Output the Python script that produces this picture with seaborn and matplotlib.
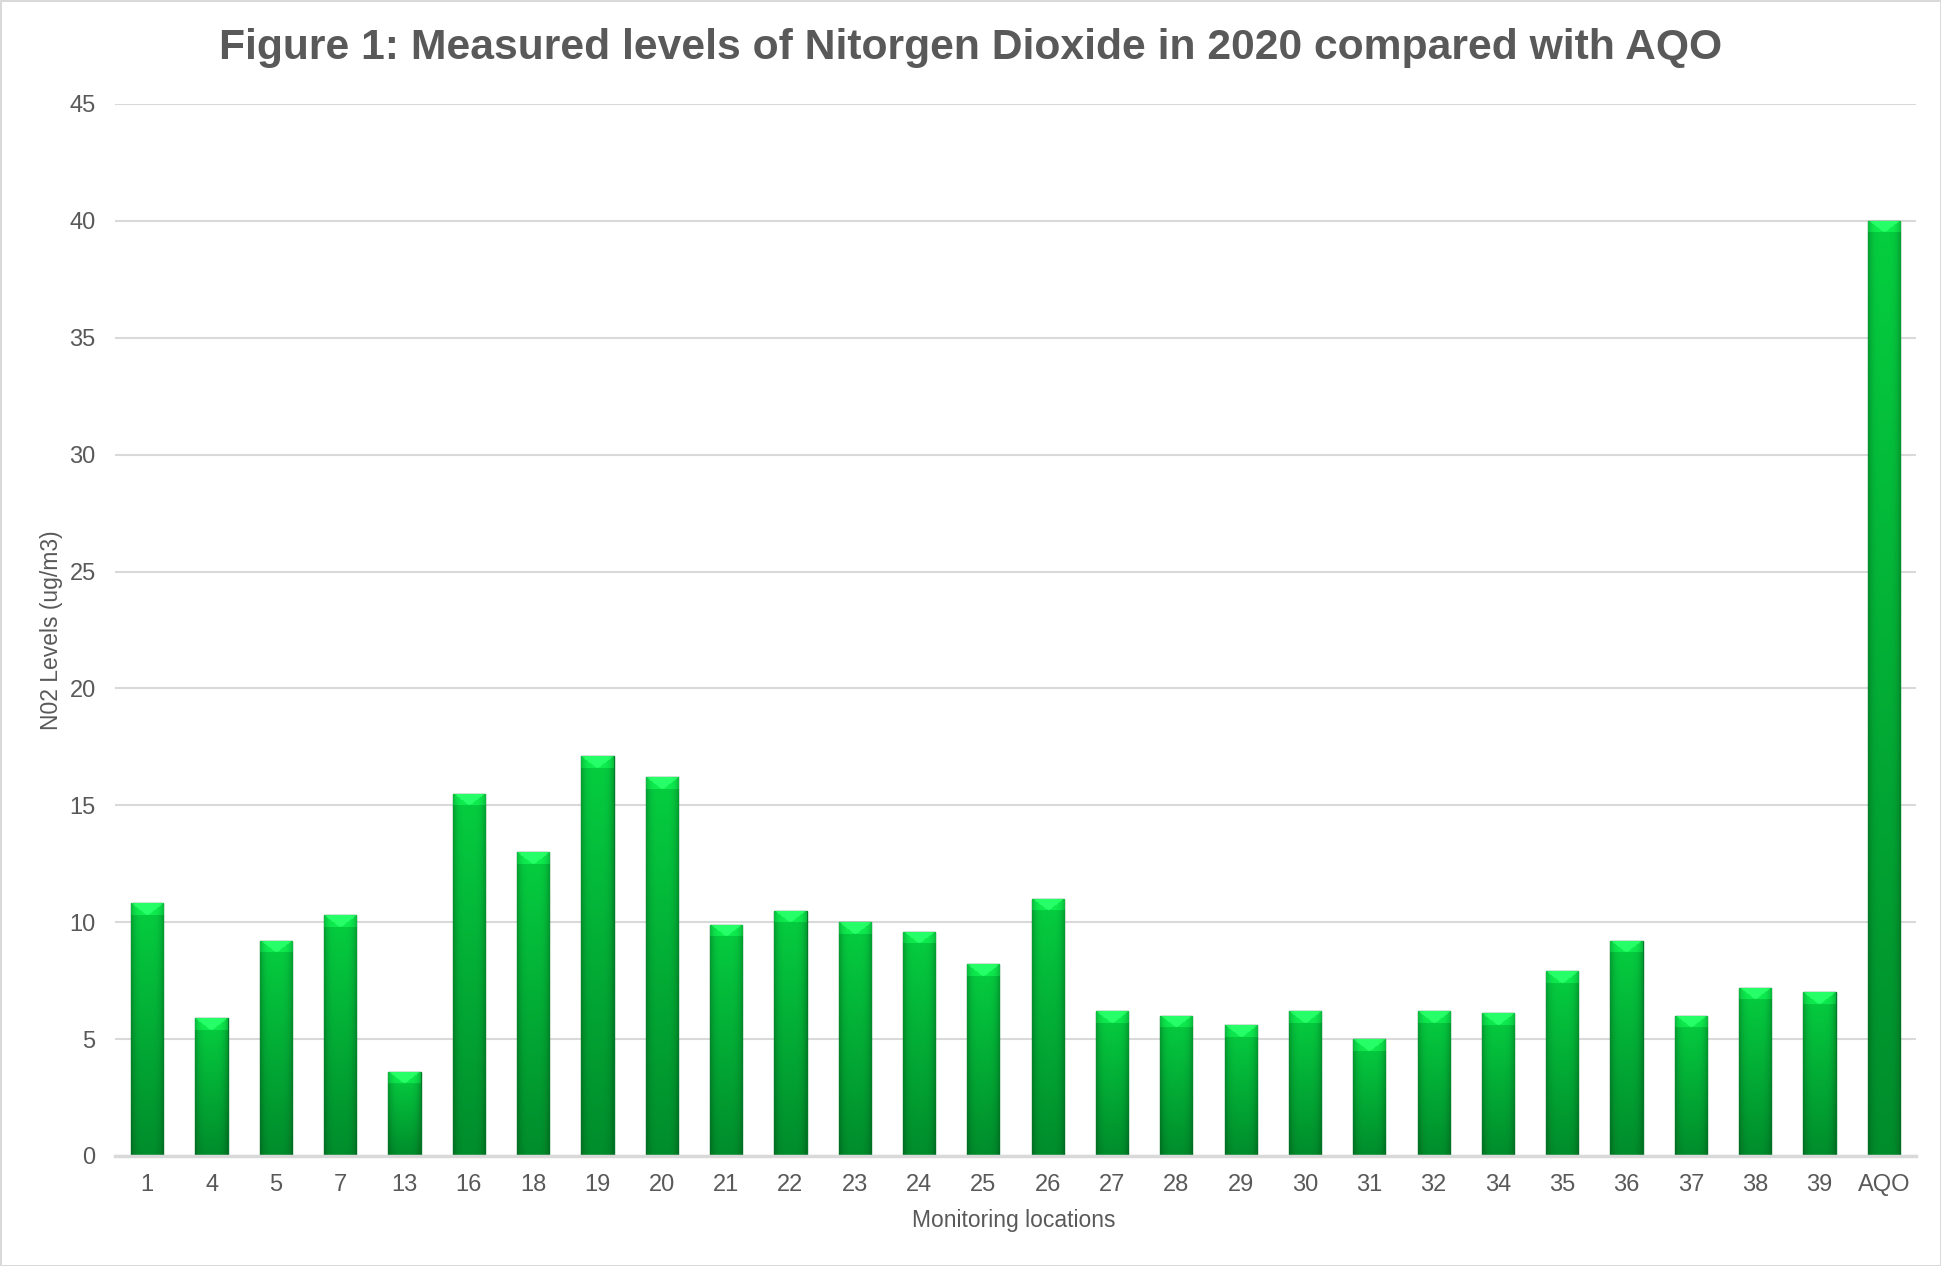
import numpy as np
import pandas as pd
import matplotlib.pyplot as plt
import seaborn as sns

locations = ["1", "4", "5", "7", "13", "16", "18", "19", "20", "21", "22", "23", "24", "25",
             "26", "27", "28", "29", "30", "31", "32", "34", "35", "36", "37", "38", "39", "AQO"]
no2_levels = [10.8, 5.9, 9.2, 10.3, 3.6, 15.5, 13.0, 17.1, 16.2, 9.9, 10.5, 10.0, 9.6, 8.2,
              11.0, 6.2, 6.0, 5.6, 6.2, 5.0, 6.2, 6.1, 7.9, 9.2, 6.0, 7.2, 7.0, 40.0]
y_ticks = [0, 5, 10, 15, 20, 25, 30, 35, 40, 45]

df = pd.DataFrame({"Location": locations, "NO2": no2_levels})

sns.set_style("white")
plt.rcParams['font.family'] = ['Liberation Sans', 'DejaVu Sans']
grey = "#595959"

fig = plt.figure(figsize=(19.41, 12.66), dpi=100)
fig.patch.set_edgecolor("#d9d9d9")
fig.patch.set_linewidth(2)
ax = fig.add_axes([0.0593, 0.0869, 0.9278, 0.831])

sns.barplot(data=df, x="Location", y="NO2", color="#00b338", width=0.5,
            edgecolor="#017a27", linewidth=1, ax=ax, zorder=3)

# gradient fill on each bar (vertical shade + darker edges + light bevel at the top)
top_c = np.array([0.02, 0.81, 0.25])
bot_c = np.array([0.00, 0.55, 0.17])
px_per_unit = 23.4
for p in ax.patches:
    x0, w, h = p.get_x(), p.get_width(), p.get_height()
    rows = max(int(h * px_per_unit), 2)
    cols = 32
    v = np.linspace(0, 1, rows)[:, None, None]
    u = np.linspace(-1, 1, cols)[None, :, None]
    img = top_c * (1 - v) + bot_c * v
    img = img * (1 - 0.22 * np.abs(u) ** 4)
    bevel = 12
    for r in range(min(bevel, rows)):
        half = 1 - r / bevel
        mask = np.abs(np.linspace(-1, 1, cols)) < half
        img[r, :] = np.clip(img[r, :] * 1.12 + 0.03, 0, 1)
        img[r, mask] = np.clip(img[r, mask] + np.array([0.10, 0.10, 0.10]), 0, 1)
    im = ax.imshow(np.clip(img, 0, 1), extent=(x0, x0 + w, 0, h), aspect="auto",
                   origin="upper", zorder=3.5, interpolation="bilinear")
    im.set_clip_path(p)

ax.set_xlim(-0.5, len(locations) - 0.5)
ax.set_ylim(0, 45)
ax.set_yticks(y_ticks)
ax.yaxis.grid(True, color="#d9d9d9", linewidth=1.5)
ax.set_axisbelow(True)
for s in ["top", "right", "left"]:
    ax.spines[s].set_visible(False)
ax.spines["bottom"].set_color("#d9d9d9")
ax.spines["bottom"].set_linewidth(2.5)
ax.spines["bottom"].set_zorder(4)
ax.tick_params(axis="both", length=0, labelsize=17, colors=grey)
ax.tick_params(axis="x", pad=13)
ax.tick_params(axis="y", pad=14)

ax.set_xlabel("")
ax.set_ylabel("N02 Levels (ug/m3)", fontsize=16.5, color=grey)
ax.yaxis.set_label_coords(-0.029, 0.5)
fig.text(0.5225, 1 - 1221 / 1266, "Monitoring locations", ha="center", va="center",
         fontsize=16.5, color=grey)

fig.text(0.5, 1 - 48 / 1266, "Figure 1: Measured levels of Nitorgen Dioxide in 2020 compared with AQO",
         ha="center", va="center", fontsize=30.7, fontweight="bold", color=grey)

fig.savefig("out.png", dpi=100, facecolor="white", edgecolor=fig.get_edgecolor())
